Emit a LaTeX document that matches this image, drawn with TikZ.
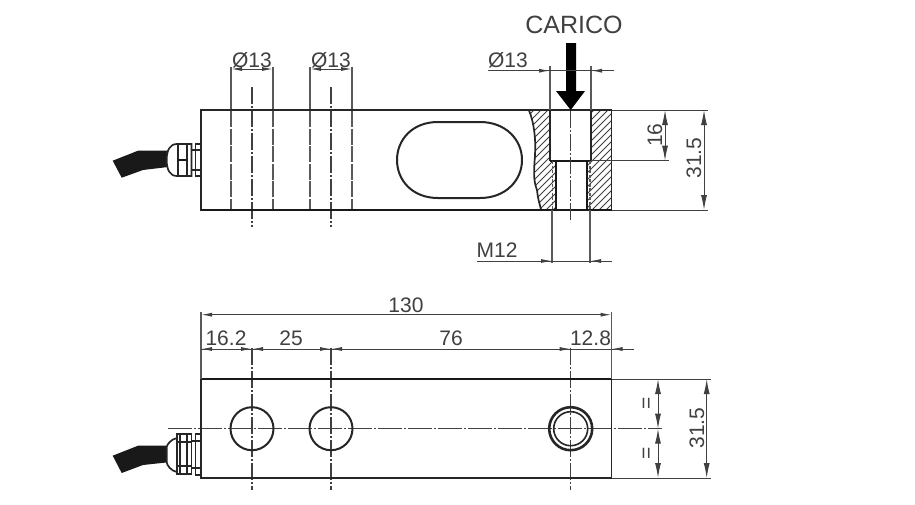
\documentclass[tikz,border=0pt]{standalone}
\usepackage{fontspec}
\setmainfont{Liberation Sans}
\usetikzlibrary{arrows.meta}
\definecolor{linegray}{gray}{0.35}
\definecolor{textgray}{gray}{0.25}
\tikzset{
  x=1pt,y=-1pt,
  outline/.style={line width=1.7pt,draw=black!85},
  heavy/.style={line width=2.3pt,draw=black!90},
  thin dim/.style={line width=1pt,draw=black!75},
  ext/.style={line width=1.1pt,draw=linegray},
  hiddenline/.style={line width=1.2pt,draw=linegray,dash pattern=on 16pt off 1.6pt},
  axis/.style={line width=1.1pt,draw=black!75,dash pattern=on 17pt off 2pt on 2pt off 2pt},
  hatchline/.style={line width=1pt,draw=black!75},
  tipboth/.style={thin dim,{Latex[length=11pt,width=4pt]}-{Latex[length=11pt,width=4pt]}},
  tipbig/.style={thin dim,{Latex[length=15pt,width=6pt]}-{Latex[length=15pt,width=6pt]}},
  tipend/.style={thin dim,-{Latex[length=11pt,width=4pt]}},
  lbl/.style={text=textgray,font=\fontsize{21}{22}\selectfont,inner sep=0pt},
}
\begin{document}
\begin{tikzpicture}
\useasboundingbox (0,0) rectangle (915,504);
\fill[white] (0,0) rectangle (915,504);

%==== TOP VIEW ====
\foreach \hx in {231,273,310,352}{
  \draw[ext] (\hx,67) -- (\hx,110);
  \draw[hiddenline] (\hx,111) -- (\hx,210);
}
\foreach \hx in {252,331}{
  \draw[axis] (\hx,87) -- (\hx,227);
}
\draw[tipboth] (231,69) -- (273,69);
\draw[tipboth] (310,69) -- (352,69);
\node[lbl] (d1) at (252,60) {Ø13};
\node[lbl] (d2) at (331,60) {Ø13};

% hatching
\begin{scope}
  \clip (529,110.5) .. controls (534,122) and (536,140) .. (535,155)
        .. controls (534,170) and (533,180) .. (537,190)
        .. controls (538,200) and (540,205) .. (541,209.5)
        -- (556,209.5) -- (556,160.7) -- (550,160.7) -- (550,110.5) -- cycle;
  \foreach \c in {420,427,...,580}{
    \draw[hatchline] (\c,210) -- (\c+100,110);
  }
\end{scope}
\begin{scope}
  \clip (591,110.5) -- (611.5,110.5) -- (611.5,209.5) -- (587,209.5) -- (587,160.7) -- (591,160.7) -- cycle;
  \foreach \c in {480,487,...,620}{
    \draw[hatchline] (\c,210) -- (\c+100,110);
  }
\end{scope}
\draw[outline] (529,110.5) .. controls (534,122) and (536,140) .. (535,155)
        .. controls (534,170) and (533,180) .. (537,190)
        .. controls (538,200) and (540,205) .. (541,209.5);

% body
\draw[outline] (201,110) rectangle (611.5,210);
\draw[heavy] (201,210) -- (611.5,210);
% slot
\draw[line width=2pt,draw=black!85] (438,122) -- (480,122)
  .. controls (506,122) and (522,140) .. (522,160)
  .. controls (522,180) and (506,198) .. (480,198)
  -- (438,198)
  .. controls (412,198) and (397,180) .. (397,160)
  .. controls (397,140) and (412,122) .. (438,122) -- cycle;

% counterbore and tapped hole
\draw[outline] (550,110) -- (550,160.7);
\draw[outline] (591,110) -- (591,160.7);
\draw[heavy] (550,160.7) -- (591,160.7);
\draw[heavy] (556,160.7) -- (556,210);
\draw[heavy] (587,160.7) -- (587,210);
\draw[ext,dash pattern=on 3pt off 1.5pt] (552.5,161) -- (552.5,210);
\draw[ext,dash pattern=on 3pt off 1.5pt] (590,161) -- (590,210);
\draw[axis] (570.7,111) -- (570.7,222);

% load arrow
\fill[black] (566,43) -- (576,43) -- (576,91) -- (585,91) -- (570.7,110) -- (556,91) -- (566,91) -- cycle;
\node[lbl,font=\fontsize{25}{26}\selectfont] (carico) at (574,24.5) {CARICO};

% section dims
\draw[ext] (550,66) -- (550,110);
\draw[ext] (591,66) -- (591,110);
\draw[thin dim] (488,70.7) -- (614,70.7);
\draw[tipend] (538,70.7) -- (550,70.7);
\draw[tipend] (603,70.7) -- (591,70.7);
\node[lbl] (d3) at (508,60.5) {Ø13};

\draw[ext] (552,210) -- (552,263);
\draw[ext] (590,210) -- (590,263);
\draw[thin dim] (477,261) -- (612,261);
\draw[tipend] (540,261) -- (552,261);
\draw[tipend] (602,261) -- (590,261);
\node[lbl] (m12) at (497,250) {M12};

\draw[thin dim] (611.5,110) -- (708,110);
\draw[thin dim] (611.5,210) -- (708,210);
\draw[thin dim] (591,160.7) -- (669,160.7);
\draw[tipbig] (665,110) -- (665,160.7);
\draw[tipbig] (704,110) -- (704,210);
\node[lbl,rotate=90] (d16) at (655,135) {16};
\node[lbl,rotate=90] (d315a) at (694,158) {31.5};

% top cable gland
\fill[black!90] (112.7,160.7) -- (138,150.7) -- (168,150.7) -- (168,167) -- (143,170) -- (121.7,177.7) -- cycle;
\draw[outline,fill=white] (177,144) .. controls (170,144) and (166.7,150) .. (166.7,160)
  .. controls (166.7,170) and (170,176) .. (177,176) -- (191.5,176) -- (191.5,144) -- cycle;
\draw[outline] (178,144) -- (178,176);
\draw[outline] (187,144) -- (187,176);
\draw[heavy] (178,160) -- (187,160);
\draw[outline,fill=white] (195.5,144) rectangle (201,176);
\draw[outline] (195.5,150) -- (201,150);
\draw[outline] (195.5,170) -- (201,170);
\draw[outline] (191.5,150) -- (195.5,150);
\draw[outline] (191.5,170) -- (195.5,170);

%==== BOTTOM VIEW ====
\draw[axis,dash pattern=on 24pt off 2pt on 2pt off 2pt] (168,428.7) -- (662,428.7);
\foreach \hx in {252,331,570.7}{
  \draw[axis] (\hx,348) -- (\hx,490);
}
\draw[outline] (201,379) rectangle (611.5,478);
\draw[heavy] (201,379) -- (611.5,379);
\node[circle,line width=2pt,draw=black!85,minimum size=43pt,inner sep=0pt] (h1) at (252,428.7) {};
\node[circle,line width=2pt,draw=black!85,minimum size=43pt,inner sep=0pt] (h2) at (331,428.7) {};
\node[circle,line width=2.6pt,draw=black!85,minimum size=43pt,inner sep=0pt] (h3) at (570.7,428.7) {};
\node[circle,line width=1.6pt,draw=black!85,minimum size=34pt,inner sep=0pt] (h3i) at (570.7,428.7) {};

% dims
\draw[ext] (201,312) -- (201,379);
\draw[ext] (611.5,312) -- (611.5,379);
\draw[tipboth] (201,314.7) -- (611.5,314.7);
\node[lbl] (d130) at (406,305) {130};

\draw[thin dim] (201,349) -- (634,349);
\draw[tipend] (213,349) -- (201,349);
\draw[tipend] (240,349) -- (252,349);
\draw[tipend] (264,349) -- (252,349);
\draw[tipend] (319,349) -- (331,349);
\draw[tipend] (343,349) -- (331,349);
\draw[tipend] (558.7,349) -- (570.7,349);
\draw[tipend] (623.5,349) -- (611.5,349);
\node[lbl] (a) at (226,338.5) {16.2};
\node[lbl] (b) at (291,338.5) {25};
\node[lbl] (c) at (451,338.5) {76};
\node[lbl] (e) at (590.5,338.5) {12.8};

\draw[thin dim] (611.5,379) -- (711,379);
\draw[thin dim] (611.5,478) -- (711,478);
\draw[tipbig] (658,379) -- (658,428.7);
\draw[tipbig] (658,428.7) -- (658,478);
\draw[tipbig] (706.7,379) -- (706.7,478);
\node[lbl,rotate=90] (eq1) at (648,403.5) {=};
\node[lbl,rotate=90] (eq2) at (648,453.5) {=};
\node[lbl,rotate=90] (d315b) at (697,428) {31.5};

% bottom cable gland
\fill[black!90] (112.7,455.7) -- (138,445.7) -- (168,445.7) -- (168,462.3) -- (143,465) -- (121.7,473) -- cycle;
\draw[outline,fill=white] (177,438) .. controls (171,439) and (166.7,445) .. (166.7,447)
  -- (166.7,462) .. controls (166.7,465) and (171,471) .. (177,472) -- cycle;
\draw[outline,fill=white] (177,434) rectangle (191.5,474);
\draw[outline] (180,434) -- (180,474);
\draw[outline] (187,434) -- (187,474);
\draw[outline] (177,442) -- (191.5,442);
\draw[outline] (177,466) -- (191.5,466);
\draw[outline,fill=white] (195.5,434) rectangle (201,475);
\draw[outline] (195.5,441) -- (201,441);
\draw[outline] (195.5,468) -- (201,468);
\draw[outline] (191.5,441) -- (195.5,441);
\draw[outline] (191.5,468) -- (195.5,468);
\end{tikzpicture}
\end{document}
